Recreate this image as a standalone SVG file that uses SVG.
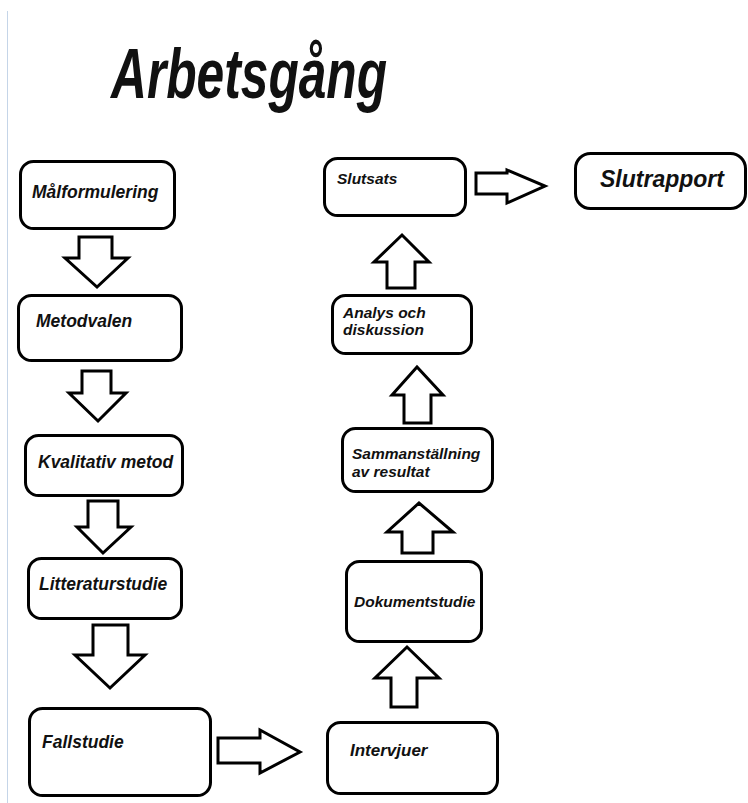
<svg xmlns="http://www.w3.org/2000/svg" width="748" height="803" viewBox="0 0 748 803">
<style>
.box{fill:#fff;stroke:#000;stroke-width:3;}
.arr{fill:#fff;stroke:#000;stroke-width:3;stroke-linejoin:miter;}
.t{font-family:"Liberation Sans",Arial,sans-serif;font-weight:bold;font-style:italic;fill:#111;}
</style>
<rect width="748" height="803" fill="#fff"/>
<line x1="7.5" y1="11" x2="7.5" y2="803" stroke="#c5d5e8" stroke-width="1"/>
<text class="t" transform="translate(111,98) scale(0.7,1)" font-size="71" fill="#000">Arbetsgång</text>
<g id="connectors">
<path class="arr" d="M79,237 H112 V258 H128 L97,287 L65,258 H79 Z"/>
<path class="arr" d="M82,371 H111 V393 H126 L98,421 L69,393 H82 Z"/>
<path class="arr" d="M88,501 H118 V527 H131 L103,553 L77,527 H88 Z"/>
<path class="arr" d="M93,625 H128 V655 H145 L110,688 L75,655 H93 Z"/>
<path class="arr" d="M218,738 H260 V730 L300,752 L260,773 V763 H218 Z"/>
<path class="arr" d="M391,707 V678 H375 L407,647 L439,678 H417 V707 Z"/>
<path class="arr" d="M402,553 V532 H387 L419,503 L453,532 H433 V553 Z"/>
<path class="arr" d="M404,423 V395 H392 L417,367 L443,395 H431 V423 Z"/>
<path class="arr" d="M387,288 V262 H374 L402,235 L429,262 H415 V288 Z"/>
<path class="arr" d="M476,173 H507 V170 L545,186 L507,203 V194 H476 Z"/>
</g>
<g id="malformulering">
<rect class="box" x="20.5" y="161.5" width="154" height="67" rx="13"/>
<text class="t" x="32" y="198" font-size="17.5">Målformulering</text>
</g>
<g id="metodvalen">
<rect class="box" x="18.5" y="295.5" width="163" height="65" rx="13"/>
<text class="t" x="36" y="327" font-size="17.5">Metodvalen</text>
</g>
<g id="kvalitativ">
<rect class="box" x="25.5" y="435.5" width="157" height="60" rx="13"/>
<text class="t" x="38" y="468" font-size="17.5">Kvalitativ metod</text>
</g>
<g id="litteraturstudie">
<rect class="box" x="28.5" y="558.5" width="153" height="60" rx="13"/>
<text class="t" x="39" y="590" font-size="17.5">Litteraturstudie</text>
</g>
<g id="fallstudie">
<rect class="box" x="29.5" y="708.5" width="181" height="87" rx="13"/>
<text class="t" x="42" y="748" font-size="17.5">Fallstudie</text>
</g>
<g id="intervjuer">
<rect class="box" x="327.5" y="722.5" width="170" height="71" rx="13"/>
<text class="t" x="350" y="756" font-size="17">Intervjuer</text>
</g>
<g id="dokumentstudie">
<rect class="box" x="346.5" y="561.5" width="135" height="80" rx="13"/>
<text class="t" x="354" y="607" font-size="15.5">Dokumentstudie</text>
</g>
<g id="sammanstallning">
<rect class="box" x="342.5" y="428.5" width="150" height="63" rx="13"/>
<text class="t" x="352" y="459" font-size="15.5">Sammanställning</text>
<text class="t" x="352" y="477" font-size="15.5">av resultat</text>
</g>
<g id="analys">
<rect class="box" x="332.5" y="295.5" width="139" height="58" rx="13"/>
<text class="t" x="343" y="318" font-size="15.5">Analys och</text>
<text class="t" x="343" y="335" font-size="15.5">diskussion</text>
</g>
<g id="slutsats">
<rect class="box" x="324.5" y="158.5" width="141" height="57" rx="13"/>
<text class="t" x="337" y="184" font-size="15.5">Slutsats</text>
</g>
<g id="slutrapport">
<rect class="box" x="575.5" y="153.5" width="170" height="55" rx="15"/>
<text class="t" x="600" y="187" font-size="23">Slutrapport</text>
</g>
</svg>
